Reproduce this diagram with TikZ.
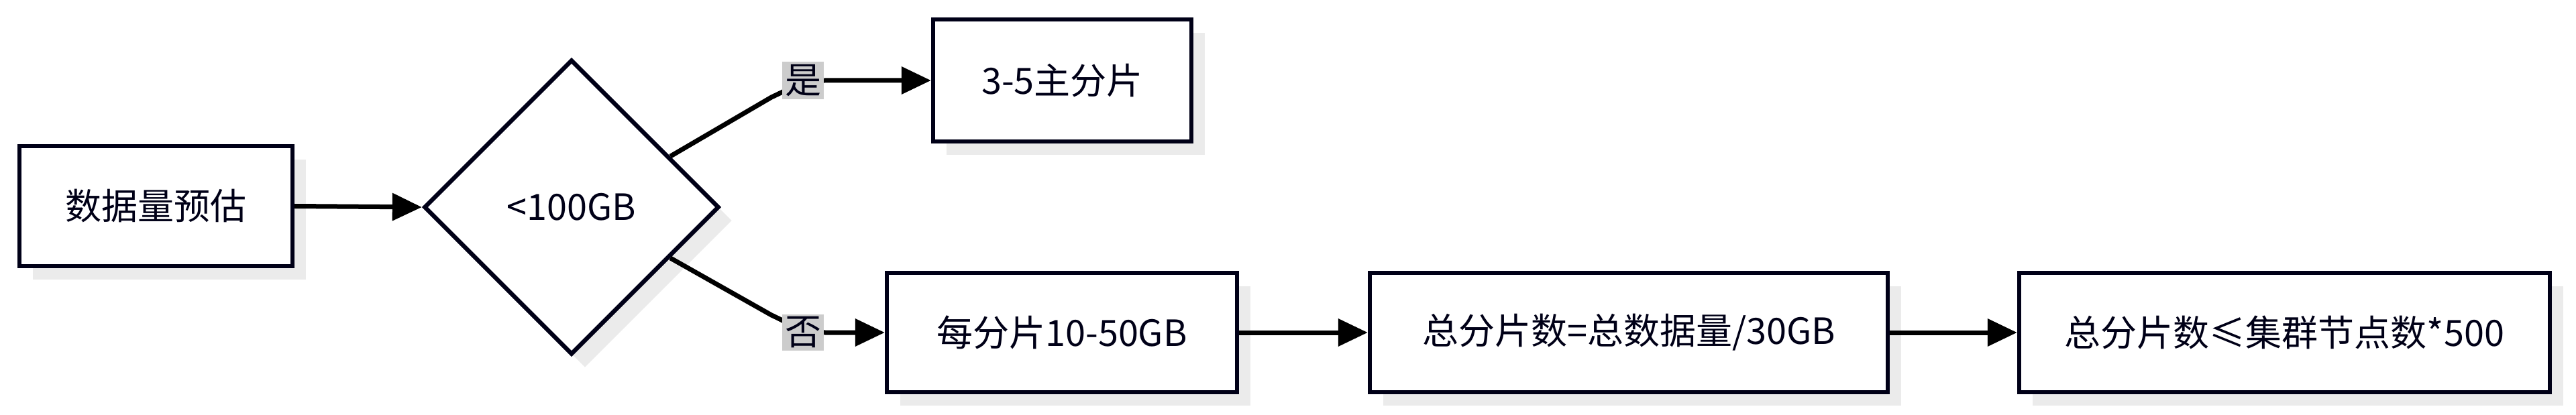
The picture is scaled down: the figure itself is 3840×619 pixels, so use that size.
\documentclass[tikz,border=0pt]{standalone}
\usepackage{fontspec}
\setmainfont{Noto Sans CJK SC}
\usetikzlibrary{shapes.geometric,arrows.meta,calc,shadows}
\begin{document}
\begin{tikzpicture}[x=0.25pt,y=-0.25pt,
  every node/.style={font=\fontsize{13.5pt}{16pt}\selectfont, text=black!85!blue!60!black},
  box/.style={draw=black!85!blue!60!black, line width=1.6pt, fill=white, inner sep=0,
    drop shadow={shadow xshift=5pt, shadow yshift=-5pt, fill=black!8, opacity=1}},
  conn/.style={line width=1.75pt, -{Triangle[length=11pt,width=10pt]}},
  lab/.style={fill=black!20, inner sep=1pt, text=black!85!blue!60!black}]
\useasboundingbox (0,0) rectangle (3840,619);
\node[box, minimum width=101.75pt, minimum height=44.75pt] (a) at (232.5,307.5) {数据量预估};
\node[box, diamond, aspect=1, minimum width=110pt, minimum height=110pt] (d) at (852,309) {<100GB};
\node[box, minimum width=96.25pt, minimum height=45.5pt] (y) at (1583.5,120) {3-5主分片};
\node[box, minimum width=130.5pt, minimum height=44.5pt] (n) at (1583,496) {每分片10-50GB};
\node[box, minimum width=193pt, minimum height=44.5pt] (f) at (2428,496) {总分片数=总数据量/30GB};
\node[box, minimum width=197.75pt, minimum height=44.5pt] (g) at (3405.5,496) {总分片数≤集群节点数*500};
\draw[conn] (a.east) -- (d.west);
\coordinate (du) at ($(d.east)!0.34!(d.north)$);
\coordinate (dd) at ($(d.east)!0.34!(d.south)$);
\draw[conn] (du) -- (1150,145) to[out=25,in=180] (1230,120) -- (y.west);
\node[lab] (ly) at (1197,120) {是};
\draw[conn] (dd) -- (1150,470) to[out=-25,in=180] (1230,496) -- (n.west);
\node[lab] (ln) at (1197,496) {否};
\draw[conn] (n.east) -- (f.west);
\draw[conn] (f.east) -- (g.west);
\end{tikzpicture}
\end{document}
